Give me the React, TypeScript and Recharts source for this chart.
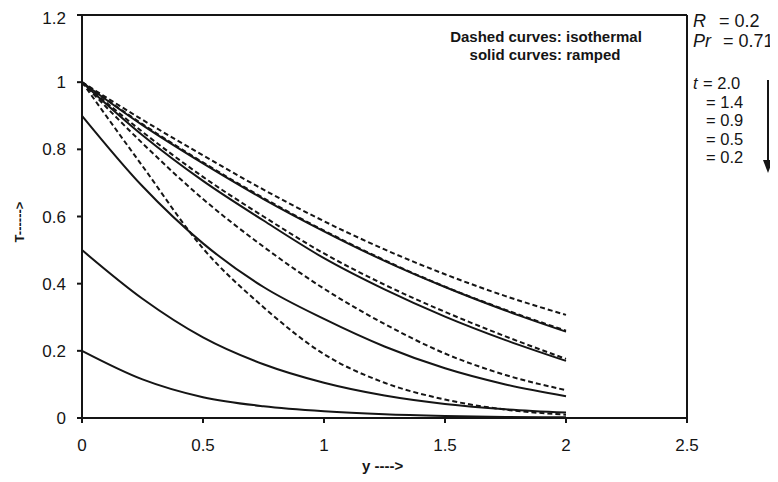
import React from "react";
import { LineChart, Line, XAxis, YAxis, ReferenceLine } from "recharts";

// distance from the plate (y) where the curves were read
const yPos = [0, 0.25, 0.5, 0.75, 1.0, 1.25, 1.5, 1.75, 2.0];

// dashed curves: isothermal plate
const iso20 = [1, 0.888, 0.782, 0.68, 0.586, 0.502, 0.428, 0.363, 0.307];
const iso14 = [1, 0.875, 0.761, 0.655, 0.558, 0.47, 0.391, 0.322, 0.26];
const iso09 = [1, 0.852, 0.718, 0.6, 0.49, 0.397, 0.316, 0.243, 0.176];
const iso05 = [1, 0.818, 0.652, 0.51, 0.385, 0.28, 0.192, 0.128, 0.083];
const iso02 = [1, 0.75, 0.505, 0.33, 0.19, 0.105, 0.055, 0.025, 0.01];

// solid curves: ramped plate
const ramp20 = [1, 0.872, 0.758, 0.652, 0.556, 0.468, 0.39, 0.32, 0.257];
const ramp14 = [1, 0.842, 0.706, 0.588, 0.476, 0.383, 0.302, 0.232, 0.17];
const ramp09 = [0.9, 0.69, 0.52, 0.39, 0.295, 0.213, 0.148, 0.1, 0.065];
const ramp05 = [0.5, 0.355, 0.24, 0.16, 0.105, 0.067, 0.042, 0.026, 0.016];
const ramp02 = [0.2, 0.115, 0.062, 0.035, 0.02, 0.011, 0.006, 0.003, 0.002];

const xTicks = [0, 0.5, 1, 1.5, 2, 2.5];
const yTicks = [0, 0.2, 0.4, 0.6, 0.8, 1, 1.2];
const tValues = ["2.0", "1.4", "0.9", "0.5", "0.2"];

const data = yPos.map((y, i) => ({
  y,
  iso20: iso20[i],
  iso14: iso14[i],
  iso09: iso09[i],
  iso05: iso05[i],
  iso02: iso02[i],
  ramp20: ramp20[i],
  ramp14: ramp14[i],
  ramp09: ramp09[i],
  ramp05: ramp05[i],
  ramp02: ramp02[i],
}));

const series = [
  { key: "iso20", dashed: true },
  { key: "iso14", dashed: true },
  { key: "iso09", dashed: true },
  { key: "iso05", dashed: true },
  { key: "iso02", dashed: true },
  { key: "ramp20", dashed: false },
  { key: "ramp14", dashed: false },
  { key: "ramp09", dashed: false },
  { key: "ramp05", dashed: false },
  { key: "ramp02", dashed: false },
];

const FONT = "'Liberation Sans', Arial, sans-serif";
const INK = "#151515";

export default function App() {
  return (
    <div style={{ position: "relative", width: 770, height: 474, fontFamily: FONT }}>
      <LineChart width={770} height={474} data={data} margin={{ top: 7, right: 91, bottom: 34, left: 0 }}>
        <XAxis
          dataKey="y"
          type="number"
          domain={[0, 2.5]}
          ticks={xTicks}
          height={30}
          tickSize={5}
          tickMargin={16}
          stroke={INK}
          strokeWidth={2}
          tick={{ fill: INK, fontSize: 17, fontFamily: FONT }}
        />
        <YAxis
          type="number"
          domain={[0, 1.2]}
          ticks={yTicks}
          width={74}
          tickSize={5}
          tickMargin={11}
          stroke={INK}
          strokeWidth={2}
          tick={{ fill: INK, fontSize: 17, fontFamily: FONT }}
        />
        {/* frame: top and right edges */}
        <ReferenceLine y={1.2} stroke={INK} strokeWidth={2} />
        <ReferenceLine x={2.5} stroke={INK} strokeWidth={2} />
        {series.map((s) => (
          <Line
            key={s.key}
            dataKey={s.key}
            type="monotone"
            stroke={INK}
            strokeWidth={2}
            strokeDasharray={s.dashed ? "5 3" : undefined}
            dot={false}
            activeDot={false}
            isAnimationActive={false}
          />
        ))}
      </LineChart>
      <svg
        width={770}
        height={474}
        style={{ position: "absolute", left: 0, top: 0, pointerEvents: "none" }}
        fontFamily={FONT}
        fill={INK}
      >
        <text
          x={11}
          y={214}
          transform="rotate(-90 11 214)"
          textAnchor="middle"
          dominantBaseline="central"
          fontSize={13}
          fontWeight="bold"
        >
          T------&gt;
        </text>
        <text x={354} y={463} fontSize={15} fontWeight="bold">
          y ----&gt;
        </text>
        <text x={538} y={34} textAnchor="middle" fontSize={15} fontWeight="bold">
          Dashed curves: isothermal
        </text>
        <text x={537} y={52} textAnchor="middle" fontSize={15} fontWeight="bold">
          solid curves: ramped
        </text>
        {/* parameter block on the right */}
        <text x={685} y={18.5} fontSize={18} fontStyle="italic">R</text>
        <text x={711} y={18.5} fontSize={18}>= 0.2</text>
        <text x={685} y={39} fontSize={18} fontStyle="italic">Pr</text>
        <text x={715} y={39} fontSize={18}>= 0.71</text>
        <text x={685} y={81} fontSize={16.5} fontStyle="italic">t</text>
        {tValues.map((v, i) => (
          <text key={v} x={i === 0 ? 695 : 698} y={81 + i * 18.5} fontSize={16.5}>
            = {v}
          </text>
        ))}
        <line x1={760} y1={72} x2={760} y2={154} stroke={INK} strokeWidth={2} />
        <polygon points="755,152 765,152 760,165" fill={INK} />
      </svg>
    </div>
  );
}
